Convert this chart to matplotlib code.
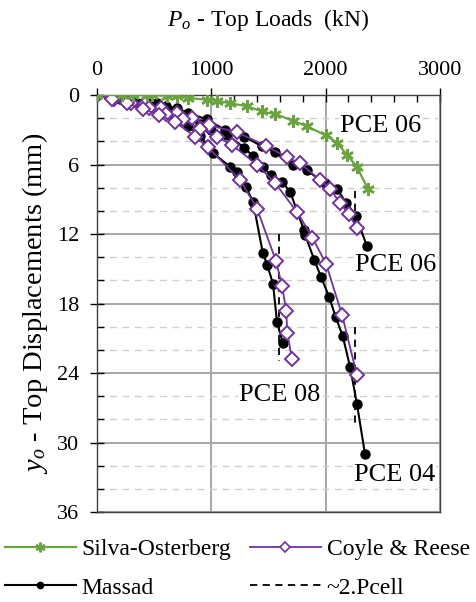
import matplotlib
matplotlib.use("Agg")
import matplotlib.pyplot as plt
from matplotlib.ticker import MultipleLocator
from matplotlib.lines import Line2D

plt.rcParams['font.family'] = 'Liberation Serif'
plt.rcParams['mathtext.fontset'] = 'custom'
plt.rcParams['mathtext.rm'] = 'Liberation Serif'
plt.rcParams['mathtext.it'] = 'Liberation Serif:italic'

# Silva-Osterberg, PCE 06
so06_p = [0, 220, 310, 440, 480, 610, 700, 800, 960, 1050, 1160, 1310, 1440, 1560, 1715, 1835, 2000, 2100, 2190, 2275, 2370]
so06_y = [0, 0, 0, 0, 0, 0.05, 0.1, 0.25, 0.4, 0.5, 0.7, 0.95, 1.4, 1.65, 2.2, 2.7, 3.45, 4.1, 5.2, 6.2, 8.1]

# Massad
ma06_p = [0, 100, 200, 315, 440, 525, 600, 700, 800, 960, 1120, 1290, 1440, 1560, 1715, 1835, 1995, 2100, 2180, 2265, 2360]
ma06_y = [0, 0.05, 0.15, 0.25, 0.6, 0.7, 0.95, 1.15, 1.55, 2.1, 3.0, 3.6, 4.4, 4.9, 6.0, 6.5, 7.6, 8.1, 9.3, 10.4, 13.0]
ma04_p = [0, 120, 250, 400, 520, 650, 780, 900, 1000, 1140, 1290, 1365, 1450, 1520, 1620, 1690, 1810, 1820, 1900, 1960, 2030, 2090, 2150, 2215, 2275, 2345]
ma04_y = [0, 0.1, 0.35, 0.7, 1.0, 1.4, 1.9, 2.5, 3.0, 3.45, 4.55, 5.3, 6.2, 6.9, 7.5, 8.35, 11.65, 12.05, 14.2, 15.7, 17.4, 19.2, 20.8, 23.5, 26.7, 31.0]
ma08_p = [0, 100, 200, 330, 450, 560, 680, 800, 900, 960, 1015, 1165, 1225, 1300, 1365, 1450, 1490, 1540, 1575, 1625]
ma08_y = [0, 0.1, 0.3, 0.6, 1.0, 1.4, 1.9, 2.7, 3.5, 4.3, 5.0, 6.2, 6.6, 7.9, 9.2, 13.6, 14.7, 16.3, 19.6, 21.4]

# Coyle & Reese
cr06_p = [0, 120, 250, 420, 560, 700, 830, 980, 1225, 1480, 1660, 1775, 1950, 2040, 2125, 2205, 2275]
cr06_y = [0, 0.15, 0.4, 0.8, 1.15, 1.55, 2.0, 2.6, 3.2, 4.4, 5.35, 5.9, 7.3, 8.1, 9.3, 10.3, 11.5]
cr04_p = [0, 150, 300, 450, 600, 750, 900, 1050, 1180, 1400, 1560, 1750, 1885, 2005, 2145, 2275]
cr04_y = [0, 0.3, 0.7, 1.1, 1.6, 2.1, 2.9, 3.6, 4.3, 6.0, 7.6, 10.1, 12.3, 14.6, 19.0, 24.2]
cr08_p = [0, 130, 260, 400, 540, 680, 860, 970, 1250, 1400, 1565, 1620, 1655, 1665, 1705]
cr08_y = [0, 0.3, 0.7, 1.2, 1.7, 2.3, 3.6, 4.5, 7.3, 9.8, 14.3, 16.5, 18.6, 20.5, 22.8]

# ~2.Pcell
pcell_p = [2260, 1590, 2260]
pcell_top = [8.3, 12.0, 20.0]
pcell_bot = [11.8, 23.0, 28.5]

labels = ['PCE 06', 'PCE 06', 'PCE 08', 'PCE 04']
label_p = [2480, 2610, 1600, 2600]
label_y = [2.7, 14.7, 25.9, 32.8]

green = '#6AA43F'
purple = '#7030A0'

fig = plt.figure(figsize=(4.76, 6.02), dpi=100)
ax = fig.add_axes([0.204, 0.1495, 0.72, 0.6925])

for p, y in zip(pcell_p, zip(pcell_top, pcell_bot)):
    ax.plot([p, p], y, color='black', ls=(0, (4, 3)), lw=1.3, zorder=2)

star = (6, 2, 0)
for p, y in [(ma06_p, ma06_y), (ma04_p, ma04_y), (ma08_p, ma08_y)]:
    ax.plot(p, y, color='black', marker='o', ms=6.5, lw=1.5, zorder=3)
for p, y in [(cr06_p, cr06_y), (cr04_p, cr04_y), (cr08_p, cr08_y)]:
    ax.plot(p, y, color=purple, marker='D', ms=7, mfc='white', mew=1.4, lw=1.3, zorder=4)
ax.plot(so06_p, so06_y, color=green, marker=star, ms=9, mew=1.8, lw=1.6, zorder=5)

for t, p, y in zip(labels, label_p, label_y):
    ax.text(p, y, t, fontsize=19, ha='center', va='center', zorder=6,
            bbox=dict(fc='white', ec='none', pad=0.5))

ax.set_xlim(0, 3000)
ax.set_ylim(36, 0)
ax.xaxis.tick_top()
ax.xaxis.set_label_position('top')
ax.xaxis.set_major_locator(MultipleLocator(1000))
ax.xaxis.set_minor_locator(MultipleLocator(200))
ax.yaxis.set_major_locator(MultipleLocator(6))
ax.yaxis.set_minor_locator(MultipleLocator(2))
ax.tick_params(which='major', direction='inout', length=10, width=1, labelsize=16, pad=6)
ax.tick_params(which='minor', direction='in', length=5, width=1)
ax.tick_params(axis='y', which='major', pad=8)
ax.grid(which='major', color='#a6a6a6', lw=1.4, zorder=0)
ax.grid(which='minor', axis='y', color='#d0d0d0', ls=(0, (5, 4)), lw=1, zorder=0)
ax.set_axisbelow(True)
for s in ax.spines.values():
    s.set_color('#404040')
    s.set_linewidth(1)

ax.set_xlabel('$P_o$ - Top Loads  (kN)', fontsize=17, labelpad=25)
ax.set_ylabel('$y_o$ - Top Displacements (mm)', fontsize=20.5, labelpad=5)

handles = [
    Line2D([], [], color=green, marker=star, ms=7, mew=1.5, lw=1.6),
    Line2D([], [], color='black', marker='o', ms=4.5, lw=1.5),
    Line2D([], [], color=purple, marker='D', ms=5.5, mfc='white', mew=1.2, lw=1.3),
    Line2D([], [], color='black', ls=(0, (4, 3)), lw=1.3),
]
names = ['Silva-Osterberg', 'Massad', 'Coyle & Reese', '~2.Pcell']
fig.legend(handles, names, loc='upper left', bbox_to_anchor=(-0.01, 1 - 529 / 602), ncol=2,
           frameon=False, fontsize=17, handlelength=3.0, handletextpad=0.25,
           columnspacing=0.8, labelspacing=0.72, borderaxespad=0.0)

fig.savefig('out.png', dpi=100)
